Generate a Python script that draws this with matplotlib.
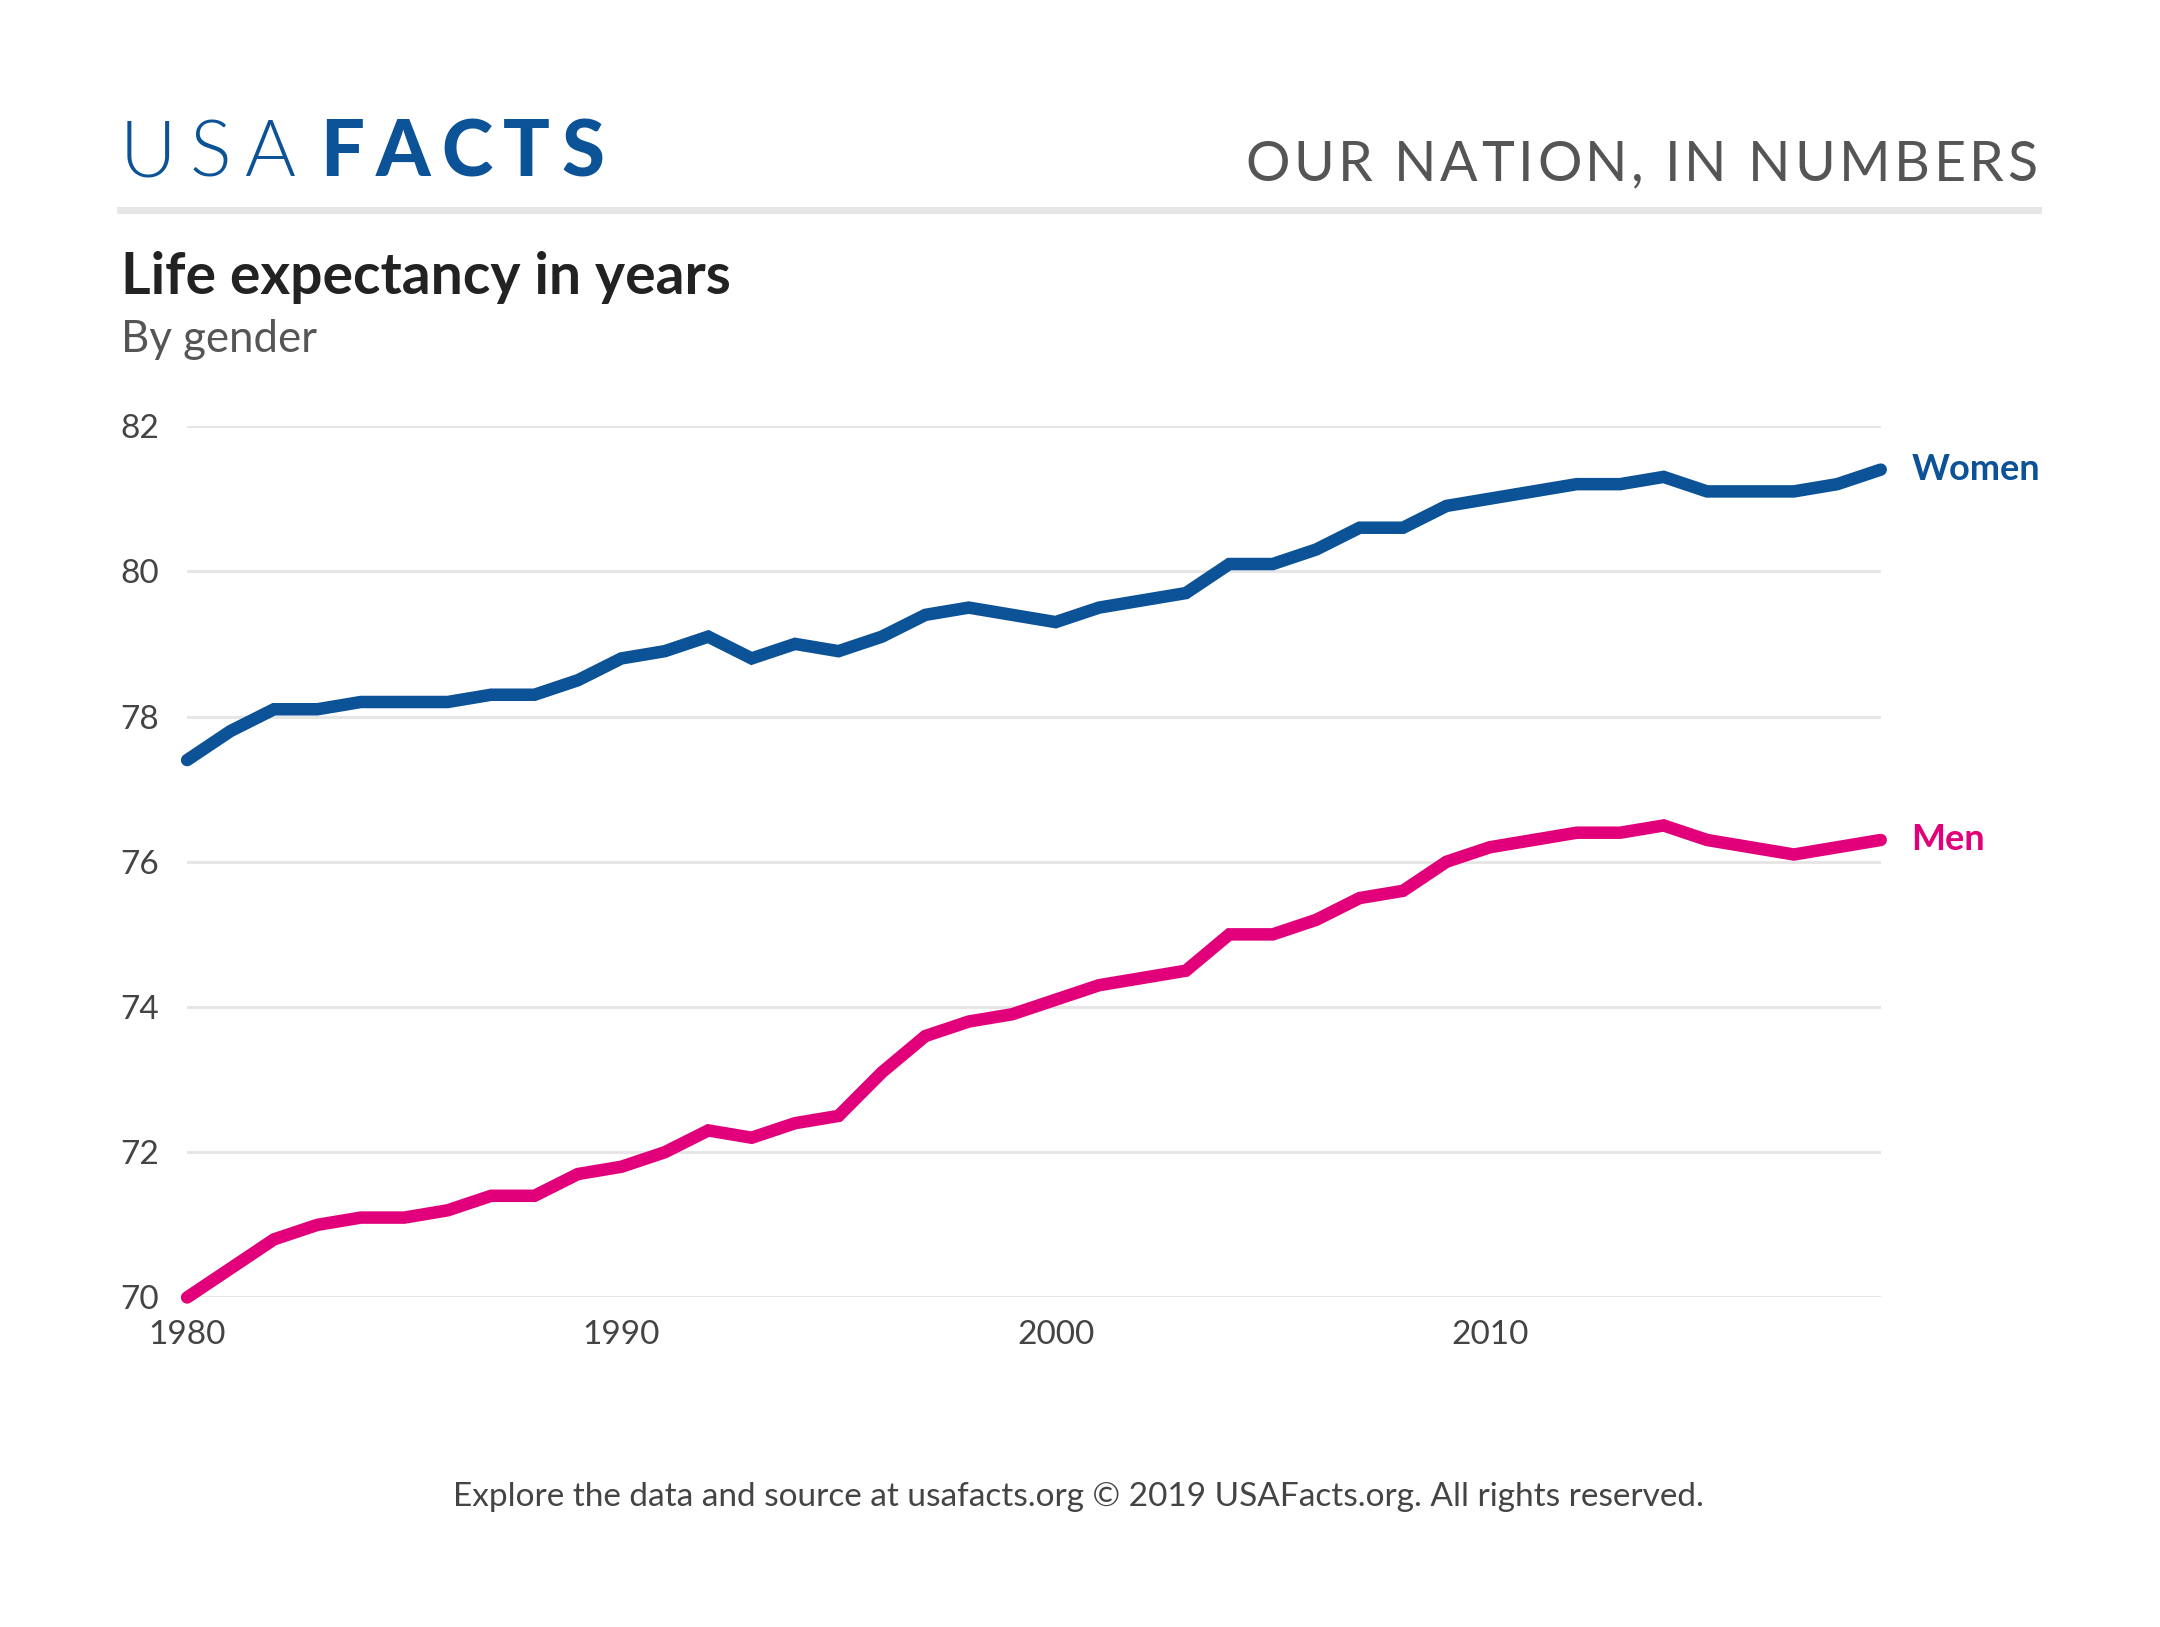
import matplotlib
matplotlib.use('Agg')
import matplotlib.pyplot as plt

years = list(range(1980, 2020))
women = [77.4, 77.8, 78.1, 78.1, 78.2, 78.2, 78.2, 78.3, 78.3, 78.5,
         78.8, 78.9, 79.1, 78.8, 79.0, 78.9, 79.1, 79.4, 79.5, 79.4,
         79.3, 79.5, 79.6, 79.7, 80.1, 80.1, 80.3, 80.6, 80.6, 80.9,
         81.0, 81.1, 81.2, 81.2, 81.3, 81.1, 81.1, 81.1, 81.2, 81.4]
men = [70.0, 70.4, 70.8, 71.0, 71.1, 71.1, 71.2, 71.4, 71.4, 71.7,
       71.8, 72.0, 72.3, 72.2, 72.4, 72.5, 73.1, 73.6, 73.8, 73.9,
       74.1, 74.3, 74.4, 74.5, 75.0, 75.0, 75.2, 75.5, 75.6, 76.0,
       76.2, 76.3, 76.4, 76.4, 76.5, 76.3, 76.2, 76.1, 76.2, 76.3]
y_ticks = [70, 72, 74, 76, 78, 80, 82]
x_ticks = [1980, 1990, 2000, 2010]
series_names = ['Women', 'Men']

BLUE = '#0b5296'
PINK = '#e2007a'
FONT = 'Lato'

plt.rcParams['font.family'] = [FONT, 'DejaVu Sans']

# layout units: reference measured at 1570 x 1180
W, H = 1570, 1180
def fx(x):
    return x / W
def fy(y):
    return 1 - y / H

fig = plt.figure(figsize=(21.6, 16.27), dpi=100)
renderer = fig.canvas.get_renderer()


def spaced(x, y, s, track, align='left', **kw):
    """text with letter spacing, x/y in layout units (baseline)"""
    widths = []
    for ch in s:
        t = fig.text(0, 0, ch, **kw)
        bb = t.get_window_extent(renderer)
        widths.append(bb.width * W / fig.bbox.width)
        t.remove()
    total = sum(widths) + track * (len(s) - 1)
    cx = x - total if align == 'right' else x
    for ch, w in zip(s, widths):
        fig.text(fx(cx), fy(y), ch, va='baseline', ha='left', **kw)
        cx += w + track


# header
spaced(87, 128, 'USA', 10, color=BLUE, fontsize=56, fontweight=300)
spaced(233, 128, 'FACTS', 8, color=BLUE, fontsize=56, fontweight='black')
spaced(1481, 131, 'OUR NATION, IN NUMBERS', 2.6, align='right',
       color='#555555', fontsize=40)
fig.add_artist(plt.Line2D([fx(87), fx(1481)], [fy(152), fy(152)],
                          transform=fig.transFigure, color='#e6e6e6', lw=5))

fig.text(fx(88), fy(213), 'Life expectancy in years', fontsize=41,
         fontweight='bold', color='#222222', va='baseline')
fig.text(fx(88), fy(255), 'By gender', fontsize=31.5, color='#555555',
         va='baseline')

ax = fig.add_axes([fx(136), fy(941), fx(1367) - fx(136), fy(309) - fy(941)])
ax.set_xlim(years[0], years[-1])
ax.set_ylim(y_ticks[0], y_ticks[-1])
ax.set_yticks(y_ticks)
ax.set_xticks(x_ticks)
ax.grid(axis='y', color='#e6e6e6', lw=2.2)
ax.set_axisbelow(True)
for sp in ax.spines.values():
    sp.set_visible(False)
ax.tick_params(axis='both', length=0, labelsize=24, labelcolor='#444444')
ax.tick_params(axis='y', pad=20)
ax.tick_params(axis='x', pad=16)

for name, vals, col in zip(series_names, [women, men], [BLUE, PINK]):
    ax.plot(years, vals, color=col, lw=9, solid_capstyle='round',
            solid_joinstyle='miter', clip_on=False, zorder=3)
    ax.annotate(name, (years[-1], vals[-1]), xytext=(22, 0),
                textcoords='offset points', va='center', ha='left',
                fontsize=26, fontweight='bold', color=col)

fig.text(fx(784), fy(1086),
         'Explore the data and source at usafacts.org \u00a9 2019 USAFacts.org. All rights reserved.',
         ha='center', va='center', fontsize=24, color='#444444')

fig.savefig('out.png', dpi=100, facecolor='white')
